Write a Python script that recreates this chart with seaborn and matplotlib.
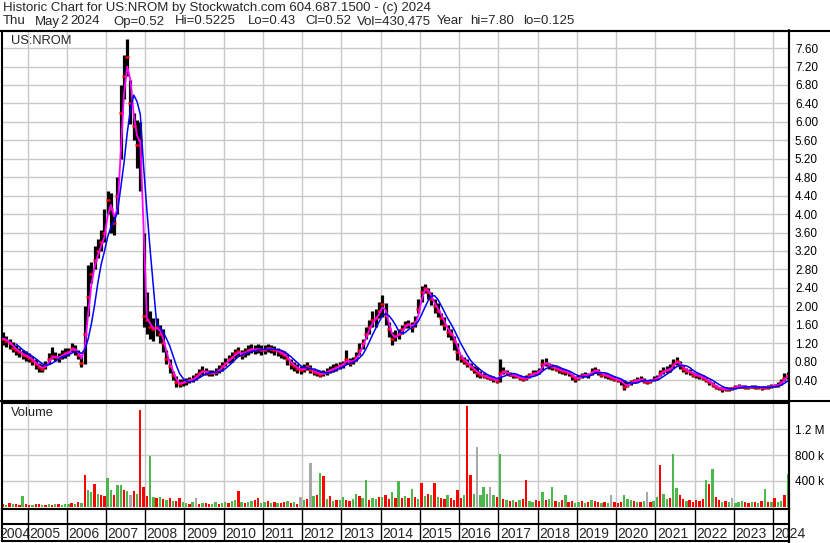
import matplotlib
matplotlib.use("Agg")
import matplotlib.pyplot as plt
import numpy as np
import pandas as pd
import seaborn as sns

# monthly readings, May 2004 .. May 2024
closes = [
    1.30, 1.25, 1.20, 1.10, 1.05, 1.00, 0.95, 0.92,                      # 2004
    0.88, 0.82, 0.75, 0.68, 0.65, 0.72, 0.85, 0.92, 0.90, 0.88, 0.95, 0.98,  # 2005
    1.00, 1.10, 1.05, 0.95, 0.78, 1.40, 2.20, 2.70, 3.00, 3.20, 3.40, 3.60,  # 2006
    4.30, 4.10, 3.80, 4.40, 6.20, 7.00, 7.40, 6.40, 5.90, 5.50, 5.60, 1.80,  # 2007
    1.70, 1.55, 1.50, 1.55, 1.40, 1.20, 0.85, 0.70, 0.50, 0.35, 0.32, 0.35,  # 2008
    0.38, 0.40, 0.42, 0.48, 0.55, 0.60, 0.58, 0.55, 0.55, 0.58, 0.62, 0.70,  # 2009
    0.78, 0.85, 0.90, 0.98, 1.02, 0.95, 1.00, 1.05, 1.08, 1.05, 1.08, 1.05,  # 2010
    1.05, 1.10, 1.08, 1.05, 1.02, 0.98, 0.95, 0.85, 0.75, 0.70, 0.65, 0.62,  # 2011
    0.65, 0.70, 0.62, 0.58, 0.55, 0.52, 0.55, 0.58, 0.62, 0.65, 0.68, 0.72,  # 2012
    0.75, 0.85, 0.78, 0.82, 0.90, 1.05, 1.20, 1.40, 1.55, 1.70, 1.75, 1.90,  # 2013
    2.05, 1.80, 1.50, 1.30, 1.35, 1.40, 1.50, 1.60, 1.62, 1.55, 1.65, 1.95,  # 2014
    2.30, 2.40, 2.30, 2.15, 2.00, 1.90, 1.75, 1.60, 1.45, 1.40, 1.25, 1.00,  # 2015
    0.88, 0.82, 0.75, 0.68, 0.62, 0.55, 0.52, 0.48, 0.46, 0.44, 0.42, 0.38,  # 2016
    0.55, 0.60, 0.55, 0.52, 0.50, 0.48, 0.45, 0.42, 0.45, 0.50, 0.55, 0.55,  # 2017
    0.60, 0.75, 0.78, 0.70, 0.68, 0.65, 0.62, 0.60, 0.58, 0.55, 0.48, 0.42,  # 2018
    0.45, 0.50, 0.52, 0.50, 0.58, 0.62, 0.58, 0.52, 0.50, 0.48, 0.45, 0.42,  # 2019
    0.40, 0.38, 0.25, 0.30, 0.35, 0.38, 0.40, 0.42, 0.38, 0.36, 0.38, 0.42,  # 2020
    0.45, 0.55, 0.60, 0.62, 0.65, 0.75, 0.82, 0.72, 0.65, 0.60, 0.58, 0.52,  # 2021
    0.50, 0.48, 0.45, 0.40, 0.35, 0.30, 0.25, 0.22, 0.20, 0.20, 0.20, 0.22,  # 2022
    0.25, 0.27, 0.26, 0.25, 0.24, 0.26, 0.25, 0.24, 0.23, 0.24, 0.25, 0.27,  # 2023
    0.28, 0.30, 0.35, 0.45, 0.52,                                        # 2024
]
highs = [
    1.45, 1.35, 1.30, 1.22, 1.15, 1.10, 1.05, 1.02,
    0.98, 0.92, 0.85, 0.78, 0.75, 0.82, 0.98, 1.12, 1.00, 0.98, 1.05, 1.10,
    1.10, 1.20, 1.15, 1.05, 0.95, 2.00, 2.90, 2.95, 3.30, 3.45, 3.65, 4.10,
    4.50, 4.45, 4.00, 4.80, 6.80, 7.45, 7.80, 6.90, 6.20, 6.05, 6.00, 3.60,
    2.30, 1.90, 1.75, 1.75, 1.60, 1.50, 1.05, 0.85, 0.60, 0.48, 0.42, 0.42,
    0.45, 0.46, 0.50, 0.55, 0.65, 0.70, 0.66, 0.62, 0.62, 0.66, 0.72, 0.80,
    0.88, 0.95, 1.00, 1.08, 1.12, 1.05, 1.10, 1.15, 1.18, 1.15, 1.18, 1.15,
    1.15, 1.18, 1.16, 1.14, 1.10, 1.06, 1.04, 0.96, 0.86, 0.80, 0.75, 0.70,
    0.74, 0.80, 0.72, 0.66, 0.62, 0.60, 0.62, 0.66, 0.70, 0.74, 0.76, 0.80,
    0.82, 1.05, 0.88, 0.90, 1.00, 1.20, 1.30, 1.55, 1.70, 1.90, 1.95, 2.10,
    2.25, 2.07, 1.65, 1.45, 1.48, 1.50, 1.60, 1.68, 1.70, 1.65, 1.80, 2.15,
    2.45, 2.48, 2.40, 2.30, 2.15, 2.07, 1.85, 1.77, 1.60, 1.50, 1.35, 1.20,
    0.95, 0.90, 0.85, 0.77, 0.70, 0.68, 0.60, 0.55, 0.52, 0.50, 0.48, 0.44,
    0.85, 0.68, 0.62, 0.58, 0.55, 0.52, 0.50, 0.46, 0.50, 0.56, 0.62, 0.62,
    0.66, 0.85, 0.88, 0.78, 0.74, 0.70, 0.68, 0.66, 0.64, 0.60, 0.54, 0.48,
    0.50, 0.55, 0.58, 0.56, 0.66, 0.68, 0.64, 0.58, 0.56, 0.54, 0.50, 0.48,
    0.45, 0.43, 0.40, 0.35, 0.40, 0.43, 0.46, 0.48, 0.44, 0.41, 0.43, 0.48,
    0.52, 0.62, 0.68, 0.70, 0.74, 0.85, 0.90, 0.82, 0.72, 0.67, 0.64, 0.58,
    0.56, 0.54, 0.50, 0.46, 0.40, 0.35, 0.30, 0.26, 0.24, 0.24, 0.24, 0.26,
    0.30, 0.32, 0.30, 0.29, 0.28, 0.30, 0.29, 0.28, 0.27, 0.28, 0.29, 0.31,
    0.32, 0.35, 0.42, 0.55, 0.58,
]
lows = [
    1.15, 1.12, 1.08, 1.00, 0.95, 0.90, 0.85, 0.82,
    0.80, 0.72, 0.65, 0.58, 0.58, 0.65, 0.75, 0.85, 0.82, 0.80, 0.85, 0.88,
    0.92, 1.00, 0.95, 0.85, 0.68, 0.75, 1.80, 2.50, 2.80, 3.05, 3.20, 3.40,
    4.00, 3.60, 3.55, 4.00, 5.20, 6.50, 7.00, 5.95, 5.60, 5.00, 4.50, 1.55,
    1.40, 1.30, 1.25, 1.35, 1.20, 1.00, 0.75, 0.55, 0.40, 0.25, 0.25, 0.28,
    0.30, 0.34, 0.36, 0.40, 0.47, 0.52, 0.50, 0.48, 0.48, 0.50, 0.55, 0.60,
    0.70, 0.76, 0.80, 0.88, 0.92, 0.85, 0.90, 0.95, 0.98, 0.96, 0.98, 0.95,
    0.96, 1.00, 0.98, 0.95, 0.92, 0.88, 0.85, 0.72, 0.65, 0.60, 0.56, 0.54,
    0.57, 0.62, 0.55, 0.50, 0.48, 0.46, 0.48, 0.52, 0.55, 0.58, 0.60, 0.64,
    0.66, 0.75, 0.70, 0.74, 0.82, 0.95, 1.08, 1.30, 1.40, 1.55, 1.55, 1.75,
    1.77, 1.60, 1.33, 1.15, 1.25, 1.30, 1.40, 1.52, 1.52, 1.45, 1.55, 1.85,
    2.10, 2.28, 2.15, 2.02, 1.85, 1.77, 1.60, 1.48, 1.33, 1.27, 1.05, 0.83,
    0.80, 0.75, 0.68, 0.62, 0.55, 0.47, 0.45, 0.44, 0.42, 0.40, 0.36, 0.34,
    0.36, 0.54, 0.50, 0.48, 0.45, 0.44, 0.41, 0.38, 0.40, 0.45, 0.50, 0.50,
    0.54, 0.62, 0.70, 0.64, 0.62, 0.60, 0.56, 0.54, 0.52, 0.48, 0.40, 0.35,
    0.40, 0.45, 0.47, 0.45, 0.52, 0.56, 0.52, 0.46, 0.45, 0.43, 0.40, 0.38,
    0.36, 0.30, 0.18, 0.24, 0.30, 0.34, 0.36, 0.37, 0.34, 0.32, 0.34, 0.37,
    0.40, 0.48, 0.54, 0.56, 0.58, 0.66, 0.72, 0.64, 0.58, 0.54, 0.52, 0.46,
    0.44, 0.42, 0.40, 0.35, 0.30, 0.25, 0.21, 0.18, 0.15, 0.16, 0.17, 0.18,
    0.21, 0.23, 0.22, 0.21, 0.20, 0.22, 0.21, 0.20, 0.19, 0.20, 0.21, 0.23,
    0.24, 0.26, 0.30, 0.38, 0.43,
]
# volume, thousands of shares
volumes = [
    40, 30, 55, 35, 45, 30, 165, 40,
    30, 25, 45, 35, 20, 30, 40, 25, 50, 35, 30, 45,
    40, 55, 35, 70, 60, 490, 260, 230, 350, 200, 180, 170,
    450, 260, 180, 330, 335, 260, 240, 190, 250, 200, 1500, 300,
    160, 785, 150, 140, 155, 120, 100, 130, 90, 85, 140, 80,
    60, 50, 70, 140, 45, 60, 55, 40, 50, 70, 45, 60,
    70, 60, 90, 110, 250, 80, 60, 70, 90, 100, 140, 60,
    70, 90, 60, 80, 55, 60, 70, 90, 60, 80, 50, 155,
    100, 120, 680, 160, 180, 525, 475, 120, 165, 90, 100, 110,
    150, 100, 90, 120, 195, 160, 130, 410, 110, 130, 120, 150,
    150, 180, 120, 230, 140, 400, 130, 170, 130, 270, 150, 120,
    370, 160, 200, 180, 370, 150, 130, 120, 180, 140, 110, 260,
    140, 180, 1570, 500, 200, 930, 180, 310, 200, 310, 180, 150,
    825, 120, 100, 90, 110, 80, 100, 120, 420, 90, 80, 100,
    90, 230, 100, 120, 310, 90, 80, 100, 180, 70, 90, 60,
    70, 90, 60, 80, 100, 90, 70, 60, 80, 60, 190, 70,
    60, 80, 180, 120, 100, 90, 80, 70, 90, 230, 80, 90,
    150, 645, 200, 120, 140, 815, 285, 180, 120, 90, 100, 80,
    100, 90, 120, 420, 360, 580, 150, 100, 80, 90, 70, 130,
    60, 80, 90, 70, 60, 80, 70, 60, 90, 275, 80, 70,
    130, 70, 90, 180, 505,
]
# r = down, g = up, k = unchanged
vol_colors = [
    "rgrgrrgr",
    "rgrrgrgrgrgg", "grgrgrggrgrr", "ggrggrgkrgrr", "rggrgrgrgrrg",
    "grgkrgrrggrg", "grggrgrggrrg", "grgrgrrgrgrk", "grkgrgrgrgrg",
    "grrggrggrggr", "grrgrgrgrgrg", "rgrgrgrrgrrr", "rgrrgkgggkgr",
    "grgrgrgrrggr", "rgrggrgrgrrg", "grgrgrrgrgkr", "rrgggrgrgkrg",
    "grggrggrrgrr", "rrrgrgrrgrgk", "gggrrgrgrgrg",
    "rggrg",
]
price_ticks = [0.40, 0.80, 1.20, 1.60, 2.00, 2.40, 2.80, 3.20, 3.60, 4.00,
               4.40, 4.80, 5.20, 5.60, 6.00, 6.40, 6.80, 7.20, 7.60]
vol_ticks = [400, 800, 1200]
vol_tick_labels = ["400 k", "800 k", "1.2 M"]
years = list(range(2004, 2025))
title_line = "Historic Chart for US:NROM by Stockwatch.com 604.687.1500 - (c) 2024"
quote_parts = ["Thu", "May", "2", "2024", "Op=0.52", "Hi=0.5225", "Lo=0.43",
               "Cl=0.52", "Vol=430,475", "Year", "hi=7.80", "lo=0.125"]
quote_x = [3, 35, 60, 70, 113, 175, 248, 305, 357, 437, 470, 523]

months = pd.date_range("2004-05-01", "2024-05-01", freq="MS")
t = np.asarray(months.year + (months.month - 0.5) / 12.0)
cols = list("".join(vol_colors))
lens = [len(t), len(closes), len(highs), len(lows), len(volumes), len(cols)]
if len(set(lens)) != 1:
    raise SystemExit(f"length mismatch: {lens}")
df = pd.DataFrame({"t": t, "close": closes, "high": highs, "low": lows,
                   "vol": volumes, "c": cols})
df["ma_short"] = df["close"].rolling(2, min_periods=1).mean()
df["ma_long"] = df["close"].rolling(5).mean()

sns.set_style("white")
plt.rcParams["font.family"] = ["Liberation Sans", "DejaVu Sans"]

W, H = 830, 543
fig = plt.figure(figsize=(W / 100, H / 100), dpi=100)


def box(x0, y0, x1, y1):
    # pixel box (top-left origin) -> figure fraction rect
    return [x0 / W, 1 - y1 / H, (x1 - x0) / W, (y1 - y0) / H]


X0, X1 = 2004.350, 2024.408
grid_c = "#c8c8c8"

ax = fig.add_axes(box(2, 31, 789, 401))
axv = fig.add_axes(box(2, 403, 789, 509))
axb = fig.add_axes(box(2, 509, 789, 541))

for a in (ax, axv):
    a.set_xlim(X0, X1)
    for y in years[1:]:
        a.axvline(y, color=grid_c, lw=1, zorder=0)
    a.set_xticks([])
    a.yaxis.tick_right()
    a.tick_params(axis="y", length=0, pad=4.3, labelsize=8.5, labelcolor="black")
    for s in a.spines.values():
        s.set_color("black")
        s.set_linewidth(1.5)

# price panel
ax.set_ylim(-0.054, 7.97)
ax.set_yticks(price_ticks)
ax.set_yticklabels([f"{v:.2f}" for v in price_ticks])
for v in price_ticks:
    ax.axhline(v, color=grid_c, lw=1, zorder=0)
ax.vlines(df["t"], df["low"], df["high"], color="black", lw=2.3, zorder=2)
ax.plot(df["t"], df["close"], ls="none", marker="_", ms=3.5, mew=1.8, color="red", zorder=3)
sns.lineplot(data=df, x="t", y="ma_short", ax=ax, color="#ff00ff", lw=1.3, zorder=4)
sns.lineplot(data=df.dropna(), x="t", y="ma_long", ax=ax, color="#0000ff", lw=1.1, zorder=5)
ax.set_xlabel("")
ax.set_ylabel("")
ax.text(9 / 787, 1 - 10 / 370, "US:NROM", transform=ax.transAxes,
        fontsize=9.3, va="center", ha="left")

# volume panel
axv.set_ylim(-35, 1610)
axv.set_yticks(vol_ticks)
axv.set_yticklabels(vol_tick_labels)
for v in vol_ticks:
    axv.axhline(v, color=grid_c, lw=1, zorder=0)
cmap = {"r": "#ff0000", "g": "#4cb84c", "k": "#a8a8a8"}
axv.bar(df["t"], df["vol"], width=0.06, color=[cmap[c] for c in df["c"]],
        linewidth=0, zorder=2)
axv.text(9 / 787, 1 - 10 / 106, "Volume", transform=axv.transAxes,
         fontsize=9.3, va="center", ha="left")

# year band
axb.set_xlim(X0, X1)
axb.set_ylim(0, 1)
axb.set_xticks([])
axb.set_yticks([])
for s in axb.spines.values():
    s.set_color("black")
    s.set_linewidth(1.5)
axb.axhline(17 / 32, color="black", lw=1.5)
px = (X1 - X0) / 787
for y in years:
    if y > 2004:
        axb.axvline(y, color="black", lw=1)
    xt = y + 1.5 * px if y > 2004 else X0 - 3 * px
    axb.text(xt, 7.5 / 32, str(y), fontsize=10, va="center", ha="left", clip_on=False)

# full-width frame lines
fig.add_artist(plt.Line2D([0, 1], [1 - 30.5 / H, 1 - 30.5 / H], color="black", lw=1.5))
fig.add_artist(plt.Line2D([0, 1], [1 - 401 / H, 1 - 401 / H], color="black", lw=1.5))
fig.add_artist(plt.Line2D([789 / W, 789 / W], [0, 1 - 30 / H], color="black", lw=1.5))

# header
fig.text(3 / W, 1 - 7.5 / H, title_line, fontsize=9.5, va="center", ha="left")
for part, xp in zip(quote_parts, quote_x):
    fig.text(xp / W, 1 - 21.5 / H, part, fontsize=9.5, va="center", ha="left")

fig.savefig("out.png", dpi=100, facecolor="white")
